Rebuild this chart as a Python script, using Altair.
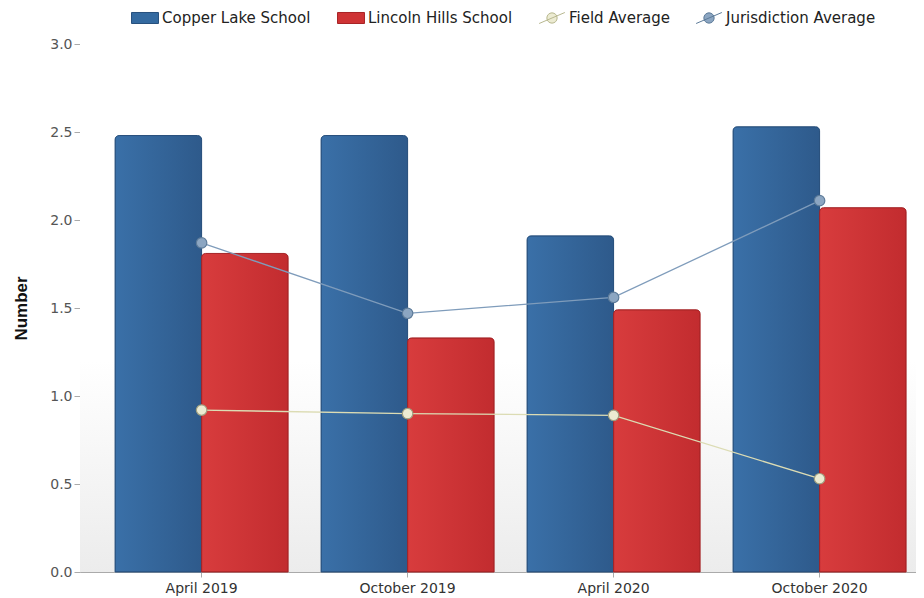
import altair as alt
import pandas as pd

periods = ["April 2019", "October 2019", "April 2020", "October 2020"]
copper_lake = [2.48, 2.48, 1.91, 2.53]
lincoln_hills = [1.81, 1.33, 1.49, 2.07]
field_avg = [0.92, 0.90, 0.89, 0.53]
jurisdiction_avg = [1.87, 1.47, 1.56, 2.11]

series = ["Copper Lake School", "Lincoln Hills School", "Field Average", "Jurisdiction Average"]
colors = ["#346aa0", "#cf3335", "#ecebd2", "#8ca6c2"]

bars = pd.DataFrame({
    "period": periods * 2,
    "series": [series[0]] * 4 + [series[1]] * 4,
    "value": copper_lake + lincoln_hills,
})
lines = pd.DataFrame({
    "period": periods * 2,
    "series": [series[2]] * 4 + [series[3]] * 4,
    "value": field_avg + jurisdiction_avg,
})

FONT = "DejaVu Sans"

x_scale = alt.Scale(domain=periods, paddingInner=0.16, paddingOuter=0.1092, align=0.78)
y_scale = alt.Scale(domain=[0, 3])
color_scale = alt.Scale(domain=series, range=colors)
offset_scale = alt.Scale(domain=series[:2], paddingInner=0, paddingOuter=0)

x_axis = alt.Axis(title=None, labelAngle=0, labelColor="#333333", labelFontSize=14,
                  labelFont=FONT, domainColor="#aaaaaa", tickColor="#aaaaaa",
                  tickSize=5, labelPadding=4, grid=False)
y_axis = alt.Axis(title="Number", values=[0, 0.5, 1, 1.5, 2, 2.5, 3], format=".1f",
                  labelColor="#555555", labelFontSize=14, labelFont=FONT,
                  titleFont="Liberation Sans", titleFontSize=17, titleFontWeight="bold",
                  titleColor="#111111", titlePadding=19,
                  domainColor="#aaaaaa", tickColor="#aaaaaa", tickSize=6, grid=False)

bar_shape = "M-1.1,-0.45 L1.1,-0.45 L1.1,0.45 L-1.1,0.45 Z"
line_shape = "M-1.05,0.45 L1.05,-0.45 M0.42,0 A0.42,0.42 0 1,1 -0.42,0 A0.42,0.42 0 1,1 0.42,0 Z"
is_line = "indexof(['Field Average','Jurisdiction Average'], datum.value) >= 0"

legend = alt.Legend(
    title=None, orient="none", direction="horizontal", legendX=52, legendY=-39,
    labelFont=FONT, labelFontSize=15, labelColor="#222222", symbolSize=600,
    columnPadding=24, symbolStrokeWidth=1, labelOffset=4, symbolOpacity=1,
    values=series,
    symbolType={"expr": f"{is_line} ? '{line_shape}' : '{bar_shape}'"},
    symbolStrokeColor={"expr": "datum.value == 'Field Average' ? '#b8b890' : datum.value == 'Jurisdiction Average' ? '#5d7b99' : datum.value == 'Copper Lake School' ? '#27507d' : '#a82326'"},
)

bg = alt.Chart(pd.DataFrame({"k": [0]})).mark_rect(
    color=alt.Gradient(gradient="linear", x1=0, y1=0, x2=0, y2=1,
                       stops=[alt.GradientStop(offset=0, color="#ffffff"),
                              alt.GradientStop(offset=0.6, color="#ffffff"),
                              alt.GradientStop(offset=1, color="#ececec")])
).encode(x=alt.value(0), x2=alt.value("width"), y=alt.value(0), y2=alt.value("height"))

bar_enc = dict(
    x=alt.X("period:N", scale=x_scale, axis=x_axis, sort=periods),
    xOffset=alt.XOffset("series:N", scale=offset_scale),
    y=alt.Y("value:Q", scale=y_scale, axis=y_axis),
)

bar_layer = alt.Chart(bars).mark_bar(
    cornerRadiusTopLeft=4, cornerRadiusTopRight=4
).encode(
    color=alt.Color("series:N", scale=color_scale, legend=legend),
    **bar_enc,
)


def grad(c1, c2):
    return alt.Gradient(gradient="linear", x1=0, y1=0, x2=1, y2=0,
                        stops=[alt.GradientStop(offset=0, color=c1),
                               alt.GradientStop(offset=1, color=c2)])


blue_layer = alt.Chart(bars).transform_filter(
    alt.datum.series == series[0]
).mark_bar(
    cornerRadiusTopLeft=4, cornerRadiusTopRight=4, strokeWidth=1,
    fill=grad("#3a70a8", "#2e5a8b"), stroke="#28507c"
).encode(**bar_enc)

red_layer = alt.Chart(bars).transform_filter(
    alt.datum.series == series[1]
).mark_bar(
    cornerRadiusTopLeft=4, cornerRadiusTopRight=4, strokeWidth=1,
    fill=grad("#d83c3d", "#c22c2f"), stroke="#a52427"
).encode(**bar_enc)

line_layer = alt.Chart(lines).mark_line(strokeWidth=1.3).encode(
    x=alt.X("period:N", scale=x_scale, sort=periods),
    y=alt.Y("value:Q", scale=y_scale),
    stroke=alt.Stroke("series:N", scale=alt.Scale(domain=series[2:], range=["#dcdcb4", "#7f9cbb"]), legend=None),
)

point_layer = alt.Chart(lines).mark_point(filled=True, size=110, opacity=1, strokeWidth=1.2).encode(
    x=alt.X("period:N", scale=x_scale, sort=periods),
    y=alt.Y("value:Q", scale=y_scale),
    fill=alt.Fill("series:N", scale=alt.Scale(domain=series[2:], range=["#ecebd2", "#8ca6c2"]), legend=None),
    stroke=alt.Stroke("series:N", scale=alt.Scale(domain=series[2:], range=["#a0a080", "#5d7b99"]), legend=None),
)

chart = alt.layer(bg, bar_layer, blue_layer, red_layer, line_layer, point_layer).resolve_scale(
    stroke="independent", fill="independent"
).properties(
    width=836, height=528,
    autosize=alt.AutoSizeParams(type="none"),
    padding={"left": 72, "top": 36, "right": 0, "bottom": 24},
).configure_view(stroke=None)

chart.save("out.html", embed_options={"renderer": "svg", "actions": False})
